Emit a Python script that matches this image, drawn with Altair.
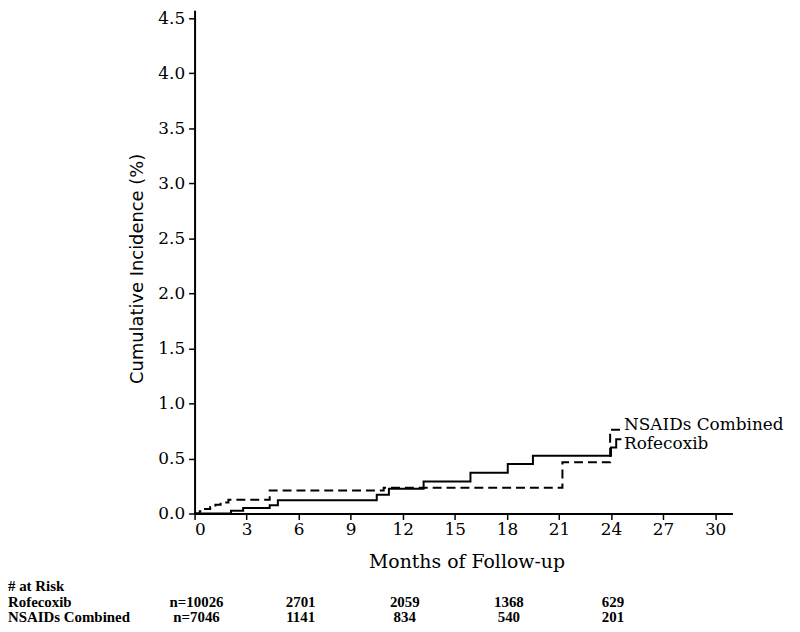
import altair as alt
import pandas as pd

# Kaplan-Meier style cumulative incidence (%)
nsaid_months = [0, 0.3, 0.6, 0.9, 1.2, 1.5, 1.95, 4.33, 10.9, 21.2, 23.95, 24.6]
nsaid_values = [0, 0.02, 0.04, 0.06, 0.08, 0.10, 0.125, 0.21, 0.235, 0.465, 0.76, 0.76]

rofe_months = [0, 2.1, 2.8, 4.33, 4.8, 10.5, 11.2, 13.2, 15.9, 18.05, 19.5, 24.0, 24.3, 24.6]
rofe_values = [0, 0.025, 0.05, 0.075, 0.12, 0.17, 0.225, 0.29, 0.37, 0.45, 0.525, 0.60, 0.675, 0.675]

series_names = ["Rofecoxib", "NSAIDs Combined"]
label_values = [0.63, 0.80]
label_month = 24.75

x_ticks = [0, 3, 6, 9, 12, 15, 18, 21, 24, 27, 30]
y_ticks = [0.0, 0.5, 1.0, 1.5, 2.0, 2.5, 3.0, 3.5, 4.0, 4.5]

risk_months = [0, 6, 12, 18, 24]
risk_rofe = ["n=10026", "2701", "2059", "1368", "629"]
risk_nsaid = ["n=7046", "1141", "834", "540", "201"]

curves = pd.concat([
    pd.DataFrame({"month": rofe_months, "inc": rofe_values, "group": series_names[0]}),
    pd.DataFrame({"month": nsaid_months, "inc": nsaid_values, "group": series_names[1]}),
])
labels = pd.DataFrame({"month": [label_month] * 2, "inc": label_values, "group": series_names})

x_scale = alt.Scale(domain=[0, 31], nice=False, zero=False)
y_scale = alt.Scale(domain=[0, 4.57], nice=False)

x_enc = alt.X("month:Q", scale=x_scale, axis=alt.Axis(
    values=x_ticks, format="d", title="Months of Follow-up",
    titleFont="DejaVu Serif", titleFontSize=19, titleFontWeight="normal",
    titleColor="black", titleY=54, titleX=274, titleBaseline="alphabetic",
    labelPadding=2))
y_enc = alt.Y("inc:Q", scale=y_scale, axis=alt.Axis(
    values=y_ticks, format=".1f", title="Cumulative Incidence (%)",
    titleFont="DejaVu Sans", titleFontSize=18, titleFontWeight="normal",
    titleColor="black", titleX=-52, titleY=260, titleBaseline="alphabetic",
    titleAlign="center", labelPadding=4))

lines = alt.Chart(curves).mark_line(interpolate="step-after", color="black", strokeWidth=2).encode(
    x=x_enc, y=y_enc,
    strokeDash=alt.StrokeDash("group:N", scale=alt.Scale(
        domain=series_names, range=[[1, 0], [9, 5]]), legend=None),
)

curve_labels = alt.Chart(labels).mark_text(
    align="left", baseline="middle", font="DejaVu Serif", fontSize=17, color="black"
).encode(x=alt.X("month:Q", scale=x_scale), y=alt.Y("inc:Q", scale=y_scale), text="group:N")

risk_df = pd.DataFrame({"month": risk_months, "rofe": risk_rofe, "nsaid": risk_nsaid})
risk_style = dict(align="center", baseline="middle", font="Liberation Serif",
                  fontSize=15, fontWeight="bold", color="black", dx=2)
risk_r = alt.Chart(risk_df).mark_text(**risk_style).encode(
    x=alt.X("month:Q", scale=x_scale), y=alt.value(596), text="rofe:N")
risk_n = alt.Chart(risk_df).mark_text(**risk_style).encode(
    x=alt.X("month:Q", scale=x_scale), y=alt.value(611), text="nsaid:N")

row_df = pd.DataFrame({"txt": ["# at Risk", series_names[0], series_names[1]],
                       "ypos": [580, 596, 611]})
row_labels = alt.Chart(row_df).mark_text(
    align="left", baseline="middle", font="Liberation Serif", fontSize=15,
    fontWeight="bold", color="black"
).encode(x=alt.value(-188), y=alt.Y("ypos:Q", scale=None), text="txt:N")

chart = alt.layer(lines, curve_labels, risk_r, risk_n, row_labels).properties(
    width=542, height=507,
    autosize=alt.AutoSizeParams(type="none"),
    padding={"left": 188, "top": 0, "right": 60, "bottom": 116},
    background="white",
).configure_view(stroke=None).configure_axis(
    grid=False, domainColor="black", domainWidth=2, tickColor="black",
    tickWidth=1.5, tickSize=6, labelFont="DejaVu Serif", labelFontSize=17,
    labelColor="black",
)

chart.save("out.html", embed_options={"renderer": "svg", "actions": False})
